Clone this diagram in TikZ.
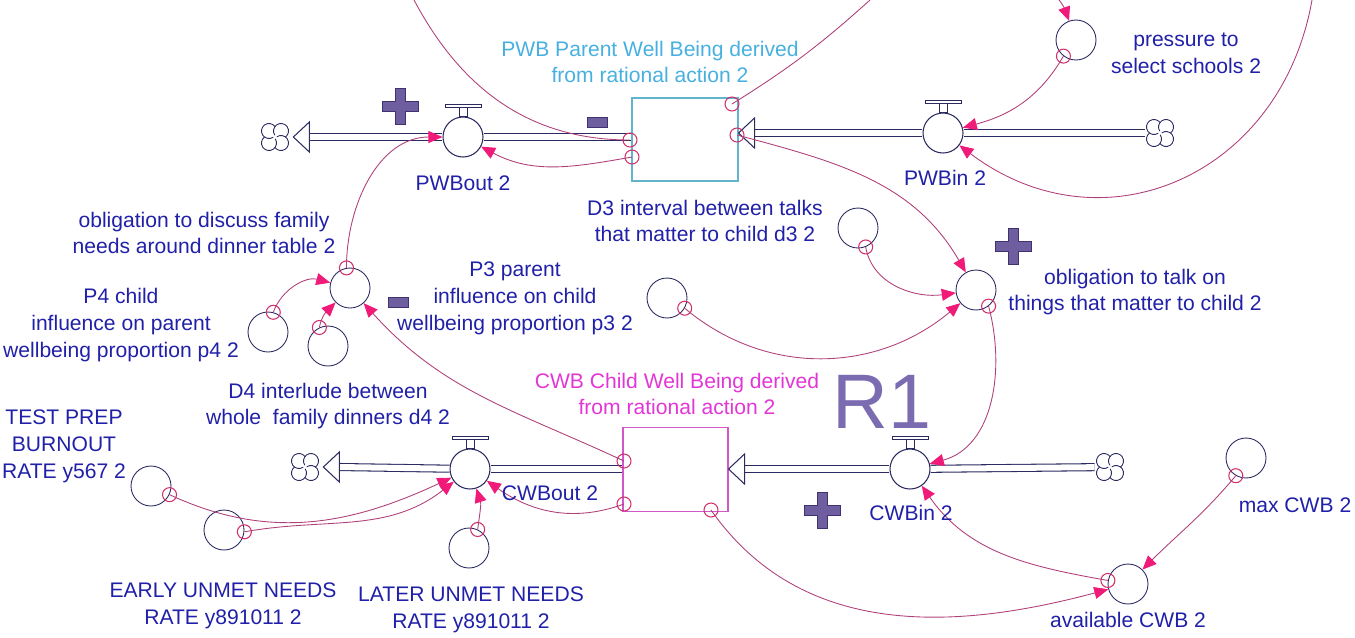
\documentclass[tikz,border=0pt]{standalone}
\usepackage{fontspec}
\setmainfont{Liberation Sans}
\usetikzlibrary{arrows.meta}

\definecolor{navy}{HTML}{2B2B62}
\definecolor{ink}{HTML}{2020A8}
\definecolor{linkc}{HTML}{B0407A}
\definecolor{headc}{HTML}{F01A78}
\definecolor{tapc}{HTML}{D0306A}
\definecolor{pwbc}{HTML}{62B4CC}
\definecolor{pwbtext}{HTML}{48B0E0}
\definecolor{cwbc}{HTML}{D058C8}
\definecolor{cwbtext}{HTML}{E236D6}
\definecolor{signc}{HTML}{6E5EA0}
\definecolor{signedge}{HTML}{3E3270}
\definecolor{ronec}{HTML}{7B6BB0}

\begin{document}
\begin{tikzpicture}[x=0.02cm, y=0.02cm,
    aux/.style={circle, draw=navy, line width=0.5pt, minimum size=0.8cm, inner sep=0pt},
    valve/.style={aux, line width=0.6pt, fill=white},
    tap/.style={circle, draw=tapc, line width=0.6pt, minimum size=0.28cm, inner sep=0pt},
    stock/.style={rectangle, line width=0.6pt, minimum width=2.12cm, minimum height=1.66cm, inner sep=0pt},
    lbl/.style={text=ink, align=center, inner sep=0pt, font=\fontsize{12}{15.3}\selectfont},
    link/.style={draw=linkc, line width=0.5pt, -{Triangle[length=0.28cm, width=0.24cm, color=headc]}},
    bare/.style={draw=linkc, line width=0.5pt},
    pipe/.style={draw=navy, line width=0.6pt, double=white, double distance=0.12cm},
    cloudsrc/.style={rectangle, minimum size=0.6cm, inner sep=0pt,
      path picture={\foreach \a in {45,135,225,315}
        \draw[navy, line width=0.5pt] ([shift={(\a:8.5)}]path picture bounding box.center)
          ++(\a-100:7.5) arc[start angle=\a-100, end angle=\a+170, radius=7.5];}},
    flowtip/.pic={\draw[navy, line width=0.6pt, fill=white] (0,0) -- (16,15) -- (16,-15) -- cycle;},
    possign/.pic={\filldraw[fill=signc, draw=signedge, line width=0.4pt]
      (-18,-5) -- (-5,-5) -- (-5,-18) -- (5,-18) -- (5,-5) -- (18,-5) -- (18,5) -- (5,5) -- (5,18) -- (-5,18) -- (-5,5) -- (-18,5) -- cycle;},
    negsign/.pic={\filldraw[fill=signc, draw=signedge, line width=0.4pt] (-10,-5) rectangle (10,5);}
  ]
  \useasboundingbox (0,0) rectangle (1355,-637);

  % parent well being (top flow)
  \node[stock, draw=pwbc] (pwb) at (685,-139.5) {};
  \node[valve] (pwbout) at (463,-137) {};
  \node[valve] (pwbin) at (943,-133) {};
  \node[cloudsrc] (cloudA) at (275,-137) {};
  \node[cloudsrc] (cloudB) at (1160,-133) {};
  \coordinate (tipA) at ([xshift=0.06cm]cloudA.east);
  \coordinate (tipB) at (pwb.east |- pwbin);
  \draw[pipe] (pwbout) -- (pwbout -| pwb.west);
  \draw[pipe] (pwbout) -- ([xshift=0.32cm]tipA);
  \draw[pipe] (cloudB) -- (pwbin);
  \draw[pipe] (pwbin) -- ([xshift=0.32cm]tipB);
  \pic at (tipA) {flowtip};
  \pic at (tipB) {flowtip};

  % child well being (bottom flow)
  \node[stock, draw=cwbc, minimum width=2.1cm, minimum height=1.68cm] (cwb) at (675.5,-469.5) {};
  \node[valve] (cwbout) at (470,-469) {};
  \node[valve] (cwbin) at (910,-469) {};
  \node[cloudsrc] (cloudC) at (305,-467) {};
  \node[cloudsrc] (cloudD) at (1110,-467) {};
  \coordinate (tipC) at ([xshift=0.06cm]cloudC.east);
  \coordinate (tipD) at (cwb.east |- cwbin);
  \draw[pipe] (cwbout) -- (cwbout -| cwb.west);
  \draw[pipe] (cwbout) -- ([xshift=0.32cm]tipC);
  \draw[pipe] (cloudD) -- (cwbin);
  \draw[pipe] (cwbin) -- ([xshift=0.32cm]tipD);
  \pic at (tipC) {flowtip};
  \pic at (tipD) {flowtip};

  % valve handles
  \foreach \v in {pwbout,pwbin,cwbout,cwbin} {
    \draw[navy, line width=0.5pt] ([xshift=-0.08cm]\v.north) rectangle ([shift={(4,9)}]\v.north);
    \draw[navy, line width=0.5pt] ([shift={(-18,9)}]\v.north) rectangle ([shift={(18,12)}]\v.north);
  }

  % auxiliaries and their taps
  \node[aux] (pressure) at (1076,-40) {};
  \node[tap] (pressT) at (pressure.-128) {};
  \node[aux] (discuss) at (350,-288) {};
  \node[tap] (discT) at (discuss.100) {};
  \node[aux] (pfour) at (268,-332) {};
  \node[tap] (pfourT) at (pfour.75) {};
  \node[aux] (dfour) at (328,-346) {};
  \node[tap] (dfourT) at (dfour.115) {};
  \node[aux] (dthree) at (858,-228) {};
  \node[tap] (dthreeT) at (dthree.-68) {};
  \node[aux] (pthree) at (667,-298) {};
  \node[tap] (pthreeT) at (pthree.-30) {};
  \node[aux] (talk) at (976,-290) {};
  \node[tap] (talkT) at (talk.-52) {};
  \node[aux] (test) at (151,-486) {};
  \node[tap] (testT) at (test.-25) {};
  \node[aux] (early) at (224,-530) {};
  \node[tap] (earlyT) at (early.-5) {};
  \node[aux] (later) at (469,-548) {};
  \node[tap] (laterT) at (later.65) {};
  \node[aux] (avail) at (1128,-584) {};
  \node[tap] (availT) at (avail.170) {};
  \node[aux] (maxcwb) at (1246,-458) {};
  \node[tap] (maxT) at (maxcwb.-120) {};

  % taps on the stocks
  \node[tap] (pwbA) at (630,-140) {};
  \node[tap] (pwbB) at (632,-157) {};
  \node[tap] (pwbC) at (732,-104) {};
  \node[tap] (pwbD) at (737,-135) {};
  \node[tap] (cwbA) at (624,-461) {};
  \node[tap] (cwbB) at (624,-504) {};
  \node[tap] (cwbC) at (711,-510) {};

  % loose ends at the top edge
  \coordinate (topA) at (414,0);
  \coordinate (topB) at (870,0);
  \coordinate (topC) at (1052,8);
  \coordinate (topD) at (1312,0);

  % connectors
  \draw[bare] (pwbA.center) to[out=180, in=-62] (topA);
  \draw[bare] (pwbC.center) to[bend right=5] (topB);
  \draw[link] (topC) to[out=-45, in=110] (pressure);
  \draw[link] (pressT.center) to[out=-120, in=15] (pwbin);
  \draw[link] (topD) to[out=-100, in=-37, looseness=1.2] (pwbin);
  \draw[link] (pwbB.center) to[out=190, in=-28] (pwbout);
  \draw[link] (discT.center) to[out=90, in=180] (pwbout);
  \draw[link] (pfourT.center) to[out=70, in=165] (discuss);
  \draw[link] (dfourT.center) to[out=80, in=-135] (discuss);
  \draw[link] (cwbA.center) to[out=155, in=-48] (discuss);
  \draw[link] (pwbD.center) to[out=-15, in=120] (talk);
  \draw[link] (dthreeT.center) to[out=-80, in=188] (talk);
  \draw[link] (pthreeT.center) to[out=-40, in=220] (talk);
  \draw[link] (talkT.center) to[out=-75, in=15] (cwbin);
  \draw[link] (testT.center) to[out=-25, in=205] (cwbout);
  \draw[link] (earlyT.center) to[out=10, in=218] (cwbout);
  \draw[link] (laterT.center) to[out=82, in=-72] (cwbout);
  \draw[link] (cwbB.center) to[out=200, in=-35] (cwbout);
  \draw[link] (cwbC.center) to[out=-55, in=195] (avail);
  \draw[link] (availT.center) to[out=170, in=-55] (cwbin);
  \draw[link] (maxT.center) to[out=-130, in=45] (avail);

  % polarity signs and loop name
  \pic at (400,-106) {possign};
  \pic at (597,-122) {negsign};
  \pic at (398,-302) {negsign};
  \pic at (1013,-246) {possign};
  \pic at (822,-510) {possign};
  \node[text=ronec, font=\fontsize{44}{44}\selectfont] (loopRone) at (882,-402) {R1};

  % labels
  \node[lbl, text=pwbtext] (lblPWB) at (650,-62) {PWB Parent Well Being derived\\from rational action 2};
  \node[lbl] (lblPress) at (1186,-53) {pressure to\\select schools 2};
  \node[lbl] (lblPWBout) at (463,-183) {PWBout 2};
  \node[lbl] (lblPWBin) at (945,-178) {PWBin 2};
  \node[lbl] (lblDiscuss) at (204,-233) {obligation to discuss family\\needs around dinner table 2};
  \node[lbl] (lblDthree) at (705,-221) {D3 interval between talks\\that matter to child d3 2};
  \node[lbl] (lblTalk) at (1135,-292) {obligation to talk on\\things that matter to child 2};
  \node[lbl] (lblPfour) at (121,-325) {P4 child\\influence on parent\\wellbeing proportion p4 2};
  \node[lbl] (lblPthree) at (515,-298) {P3 parent\\influence on child\\wellbeing proportion p3 2};
  \node[lbl] (lblDfour) at (328,-406) {D4 interlude between\\whole\ \ family dinners d4 2};
  \node[lbl, text=cwbtext] (lblCWB) at (677,-394) {CWB Child Well Being derived\\from rational action 2};
  \node[lbl] (lblTest) at (64,-446) {TEST PREP\\BURNOUT\\RATE y567 2};
  \node[lbl] (lblCWBout) at (550,-493) {CWBout 2};
  \node[lbl] (lblCWBin) at (911,-513) {CWBin 2};
  \node[lbl] (lblMax) at (1295,-505) {max CWB 2};
  \node[lbl] (lblEarly) at (223,-606) {EARLY UNMET NEEDS\\RATE y891011 2};
  \node[lbl] (lblLater) at (471,-610) {LATER UNMET NEEDS\\RATE y891011 2};
  \node[lbl] (lblAvail) at (1128,-620) {available CWB 2};
\end{tikzpicture}
\end{document}
